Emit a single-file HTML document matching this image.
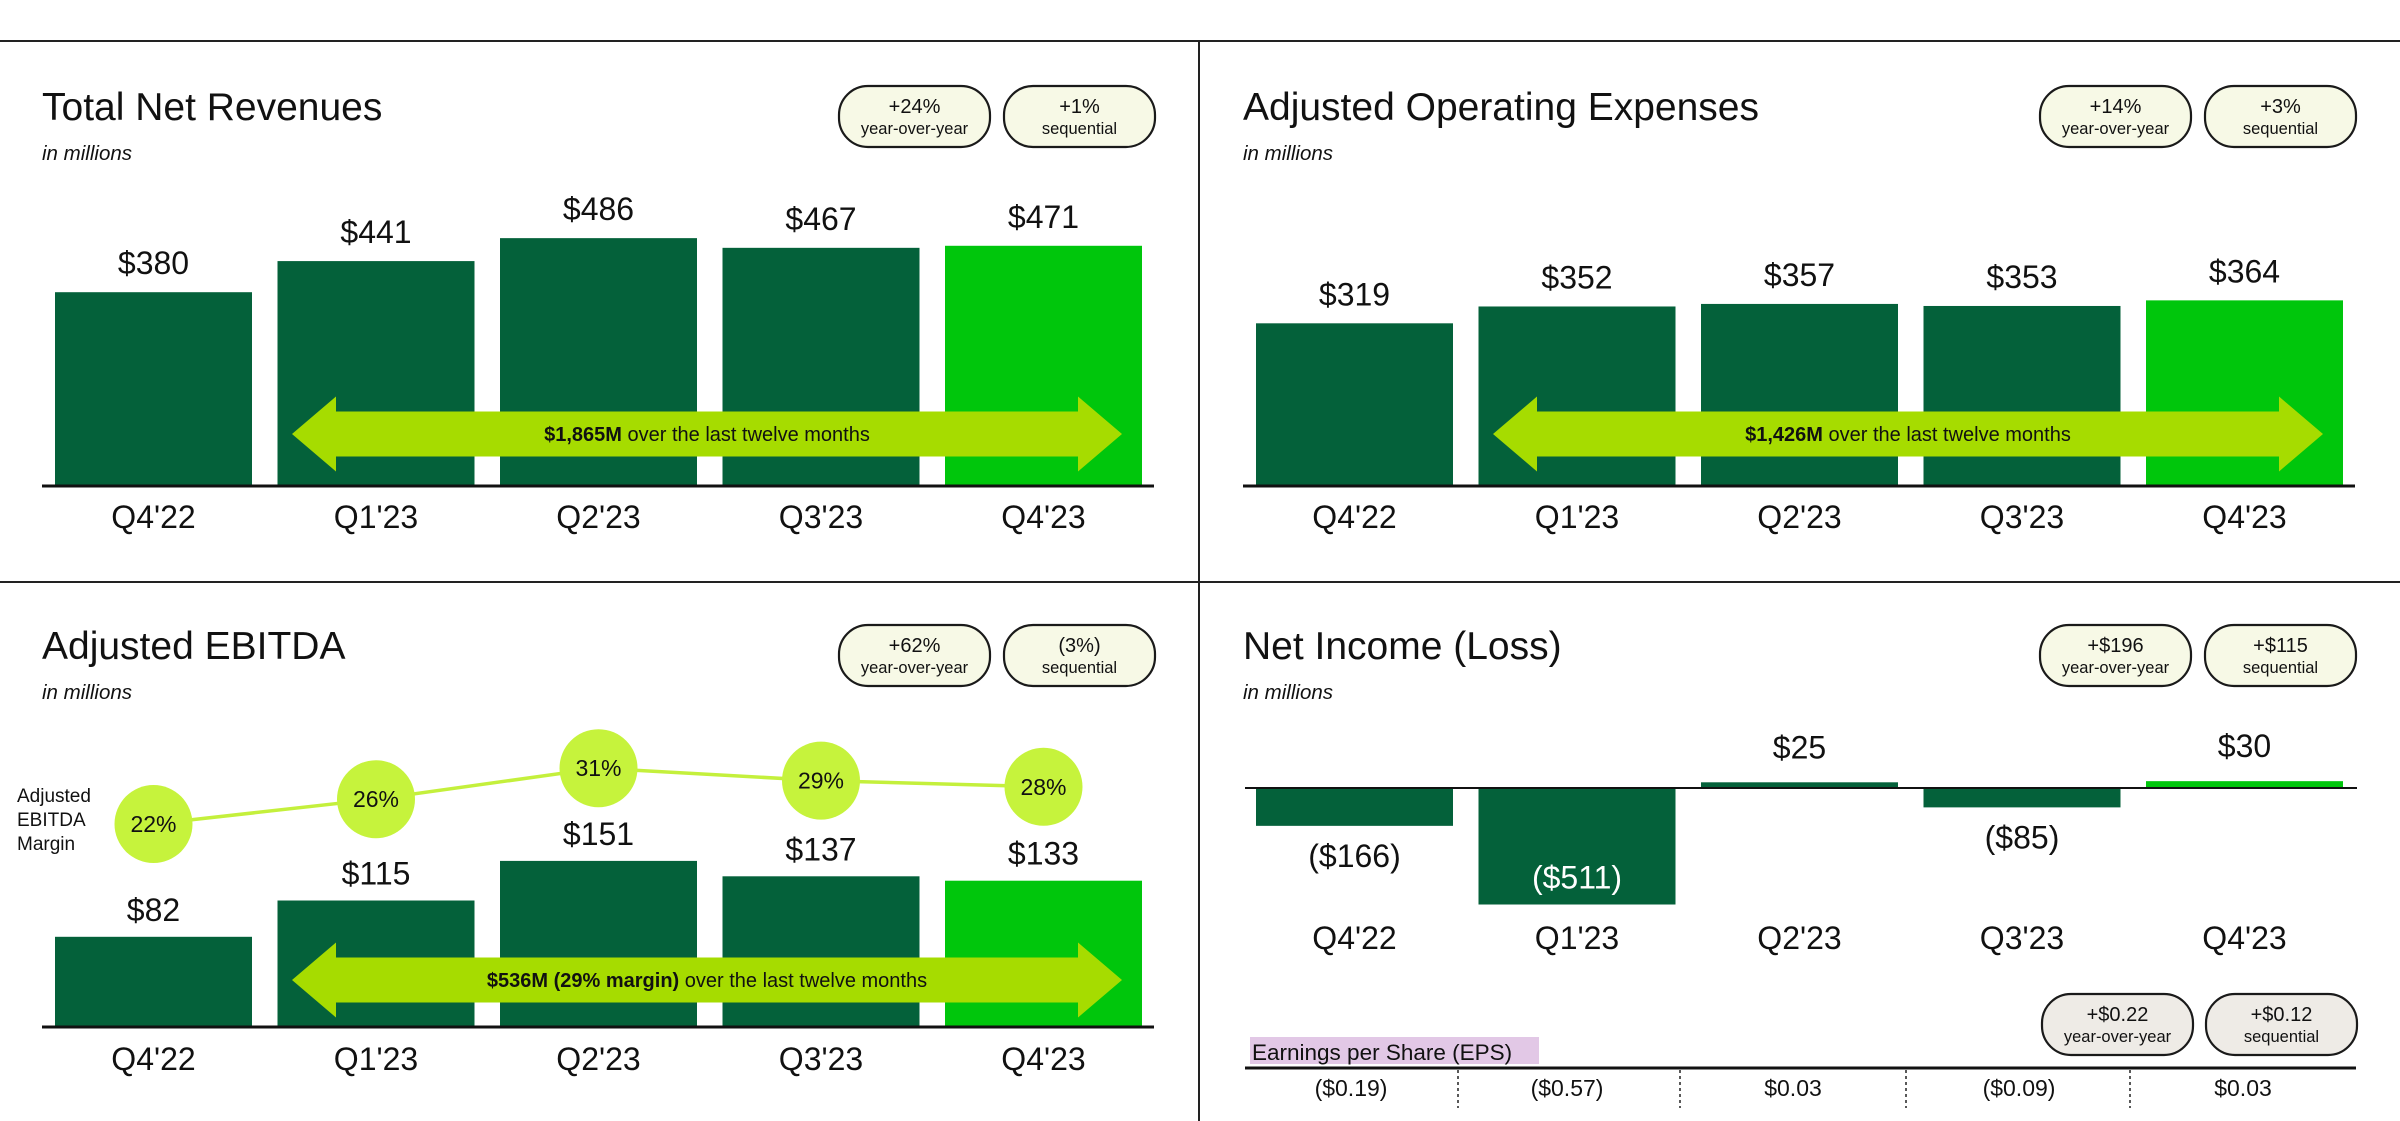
<!DOCTYPE html>
<html><head><meta charset="utf-8">
<style>
html,body{margin:0;padding:0;background:#fff;}
svg{display:block;font-family:"Liberation Sans",Arial,sans-serif;}
</style></head>
<body>
<svg id="chart" width="2400" height="1121" viewBox="0 0 2400 1121" xmlns="http://www.w3.org/2000/svg">
  <line x1="0" y1="41" x2="2400" y2="41" stroke="#222" stroke-width="2"/>
  <line x1="0" y1="582" x2="2400" y2="582" stroke="#222" stroke-width="2"/>
  <line x1="1199" y1="41" x2="1199" y2="1121" stroke="#222" stroke-width="2"/>
</svg>
<script>
const quarters = ["Q4'22","Q1'23","Q2'23","Q3'23","Q4'23"];
const revenueValues = [380,441,486,467,471];
const revenueLabels = ["$380","$441","$486","$467","$471"];
const opexValues = [319,352,357,353,364];
const opexLabels = ["$319","$352","$357","$353","$364"];
const ebitdaValues = [82,115,151,137,133];
const ebitdaLabels = ["$82","$115","$151","$137","$133"];
const marginValues = [22,26,31,29,28];
const marginLabels = ["22%","26%","31%","29%","28%"];
const netIncomeValues = [-166,-511,25,-85,30];
const netIncomeLabels = ["($166)","($511)","$25","($85)","$30"];
const epsLabels = ["($0.19)","($0.57)","$0.03","($0.09)","$0.03"];

const NS = "http://www.w3.org/2000/svg";
const svg = document.getElementById('chart');
const DARK = "#04613a", BRIGHT = "#00c60c", LIME = "#a6dc00";

function mk(tag, attrs, parent){
  const e = document.createElementNS(NS, tag);
  for (const k in attrs) e.setAttribute(k, attrs[k]);
  (parent||svg).appendChild(e);
  return e;
}
function txt(x,y,s,size,opts,parent){
  const t = mk('text', Object.assign({x:x,y:y,'font-size':size,'text-anchor':'middle',fill:'#111'}, opts||{}), parent);
  t.textContent = s;
  return t;
}
function xCenter(i, dx){ return dx + 153.5 + i*222.5; }
const BW = 197;

function panelHeader(dx, dy, title, b1a, b1b, b2a, b2b, slug){
  const g = mk('g', {});
  
  
  const t = txt(dx+42, dy+120, title, 39, {'text-anchor':'start'}, g);
  
  
  const s = txt(dx+42, dy+160, "in millions", 20.5, {'text-anchor':'start','font-style':'italic'}, g);
  
  
  badge(dx+839, dy+86, b1a, b1b, '#f7f9e6', slug + '-yoy-badge');
  badge(dx+1004, dy+86, b2a, b2b, '#f7f9e6', slug + '-sequential-badge');
}
function badge(x, y, a, b, fill, name){
  const g = mk('g', {});
  
  
  mk('rect', {x:x, y:y, width:151, height:61, rx:29, fill:fill, stroke:'#1a1a1a', 'stroke-width':2.2}, g);
  txt(x+75.5, y+27, a, 20, {}, g);
  txt(x+75.5, y+48, b, 16.5, {}, g);
}
function arrow(dx, cy, boldPart, rest, name){
  const g = mk('g', {});
  
  
  const x1 = dx+292, x2 = dx+1122, hl = 44, bh = 22.5, hh = 37.5;
  const pts = [[x1,cy],[x1+hl,cy-hh],[x1+hl,cy-bh],[x2-hl,cy-bh],[x2-hl,cy-hh],[x2,cy],[x2-hl,cy+hh],[x2-hl,cy+bh],[x1+hl,cy+bh],[x1+hl,cy+hh]];
  mk('polygon', {points: pts.map(p=>p.join(',')).join(' '), fill: LIME}, g);
  const t = mk('text', {x:(x1+x2)/2, y:cy+7, 'font-size':20, 'text-anchor':'middle', fill:'#111'}, g);
  const b = mk('tspan', {'font-weight':'bold'}, t); b.textContent = boldPart;
  const r = mk('tspan', {}, t); r.textContent = rest;
}
function barPanel(dx, dy, values, labels, scale, slug){
  const base = dy + 486;
  values.forEach((v,i)=>{
    const h = v*scale, cx = xCenter(i, dx);
    const r = mk('rect', {x:cx-BW/2, y:base-h, width:BW, height:h, fill: i===4?BRIGHT:DARK});
    
    
    const l = txt(cx, base-h-18, labels[i], 32);
    
    
  });
}
function axisAndLabels(dx, y, labY, slug){
  const a = mk('line', {x1:dx+42, y1:y, x2:dx+1154, y2:y, stroke:'#111', 'stroke-width':3});
  
  
  quarters.forEach((q,i)=>{
    const t = txt(xCenter(i, dx), labY, q, 32);
    
    
  });
}

// Top-left: revenues
panelHeader(0, 0, "Total Net Revenues", "+24%", "year-over-year", "+1%", "sequential", "revenue");
barPanel(0, 0, revenueValues, revenueLabels, 0.51, "revenue");
arrow(0, 434, "$1,865M", " over the last twelve months", "revenue-ltm-arrow");
axisAndLabels(0, 486, 528, "revenue");

// Top-right: opex
panelHeader(1201, 0, "Adjusted Operating Expenses", "+14%", "year-over-year", "+3%", "sequential", "opex");
barPanel(1201, 0, opexValues, opexLabels, 0.51, "opex");
arrow(1201, 434, "$1,426M", " over the last twelve months", "opex-ltm-arrow");
axisAndLabels(1201, 486, 528, "opex");

// Bottom-left: EBITDA
panelHeader(0, 539, "Adjusted EBITDA", "+62%", "year-over-year", "(3%)", "sequential", "ebitda");
(function(){
  const base = 1027, scale = 1.1;
  ebitdaValues.forEach((v,i)=>{
    const h = v*scale, cx = xCenter(i, 0);
    const r = mk('rect', {x:cx-BW/2, y:base-h, width:BW, height:h, fill: i===4?BRIGHT:DARK});
    
    
    const l = txt(cx, base-h-16, ebitdaLabels[i], 32);
    
    
  });
})();
arrow(0, 980, "$536M (29% margin)", " over the last twelve months", "ebitda-ltm-arrow");
axisAndLabels(0, 1027, 1070, "ebitda");
(function(){
  const my = p => 960.4 - 6.2*p;
  const pts = marginValues.map((p,i)=>[xCenter(i,0), my(p)]);
  const line = mk('polyline', {points: pts.map(p=>p.join(',')).join(' '), fill:'none', stroke:'#c4f03c', 'stroke-width':3.5});
  
  
  pts.forEach((p,i)=>{
    const c = mk('circle', {cx:p[0], cy:p[1], r:39, fill:'#c6f33c'});
    
    
    const t = txt(p[0], p[1]+8, marginLabels[i], 23);
    
    
  });
  const lg = mk('text', {x:17, y:802, 'font-size':19, fill:'#111'});
  
  
  ["Adjusted","EBITDA","Margin"].forEach((s,k)=>{
    const ts = mk('tspan', {x:17, y:802+k*24}, lg); ts.textContent = s;
  });
})();

// Bottom-right: net income
panelHeader(1201, 539, "Net Income (Loss)", "+$196", "year-over-year", "+$115", "sequential", "net-income");
(function(){
  const zero = 788, scale = 0.228, dx = 1201;
  netIncomeValues.forEach((v,i)=>{
    const h = Math.abs(v)*scale, cx = xCenter(i, dx);
    const y = v>=0 ? zero-h : zero;
    const r = mk('rect', {x:cx-BW/2, y:y, width:BW, height:h, fill: i===4?BRIGHT:DARK});
    
    
    let ly, col = '#111';
    if (v >= 0) ly = zero - h - 24;
    else if (h > 80) { ly = zero + h - 16; col = '#fff'; }
    else ly = zero + h + 41;
    const l = txt(cx, ly, netIncomeLabels[i], 32, {fill:col});
    
    
  });
  const a = mk('line', {x1:dx+44, y1:zero, x2:dx+1156, y2:zero, stroke:'#111', 'stroke-width':2});
  
  
  quarters.forEach((q,i)=>{
    const t = txt(xCenter(i, dx), 949, q, 32);
    
    
  });
  // EPS
  const hl = mk('rect', {x:1250, y:1037, width:289, height:27, fill:'#e2c8e6'});
  
  
  const et = txt(1252, 1060, "Earnings per Share (EPS)", 22.5, {'text-anchor':'start'});
  
  
  badge(2042, 994, "+$0.22", "year-over-year", '#eeebe6', 'eps-yoy-badge');
  badge(2206, 994, "+$0.12", "sequential", '#eeebe6', 'eps-sequential-badge');
  const el = mk('line', {x1:1245, y1:1068, x2:2356, y2:1068, stroke:'#111', 'stroke-width':3});
  
  
  [1458,1680,1906,2130].forEach((x,k)=>{
    const d = mk('line', {x1:x, y1:1070, x2:x, y2:1108, stroke:'#222', 'stroke-width':1.5, 'stroke-dasharray':'3,3'});
    
    
  });
  epsLabels.forEach((s,i)=>{
    const t = txt([1351,1567,1793,2019,2243][i], 1096, s, 23);
    
    
  });
})();
</script>
</body></html>
